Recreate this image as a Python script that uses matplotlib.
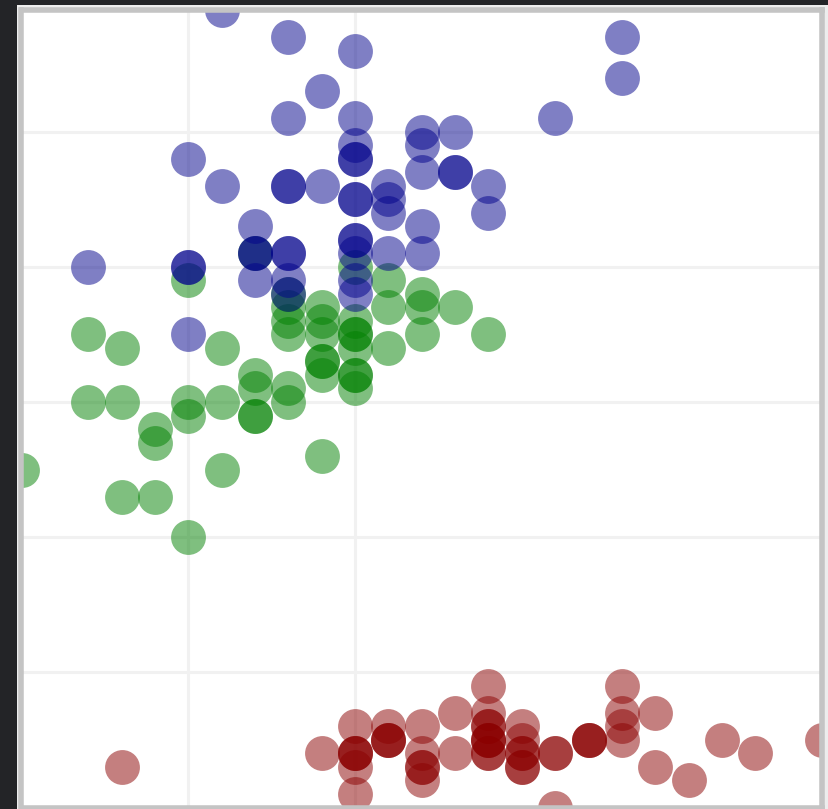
#!/usr/bin/env python3

import matplotlib
matplotlib.use('Agg')
import matplotlib.pyplot as plt
from matplotlib.patches import Rectangle

# Iris measurements: sepal width (x) against petal length (y), per species.
setosa_sepal_width = [
    3.5, 3.0, 3.2, 3.1, 3.6, 3.9, 3.4, 3.4, 2.9, 3.1,
    3.7, 3.4, 3.0, 3.0, 4.0, 4.4, 3.9, 3.5, 3.8, 3.8,
    3.4, 3.7, 3.6, 3.3, 3.4, 3.0, 3.4, 3.5, 3.4, 3.2,
    3.1, 3.4, 4.1, 4.2, 3.1, 3.2, 3.5, 3.6, 3.0, 3.4,
    3.5, 2.3, 3.2, 3.5, 3.8, 3.0, 3.8, 3.2, 3.7, 3.3]
setosa_petal_length = [
    1.4, 1.4, 1.3, 1.5, 1.4, 1.7, 1.4, 1.5, 1.4, 1.5,
    1.5, 1.6, 1.4, 1.1, 1.2, 1.5, 1.3, 1.4, 1.7, 1.5,
    1.7, 1.5, 1.0, 1.7, 1.9, 1.6, 1.6, 1.5, 1.4, 1.6,
    1.6, 1.5, 1.5, 1.4, 1.5, 1.2, 1.3, 1.4, 1.3, 1.5,
    1.3, 1.3, 1.3, 1.6, 1.9, 1.4, 1.6, 1.4, 1.5, 1.4]

versicolor_sepal_width = [
    3.2, 3.2, 3.1, 2.3, 2.8, 2.8, 3.3, 2.4, 2.9, 2.7,
    2.0, 3.0, 2.2, 2.9, 2.9, 3.1, 3.0, 2.7, 2.2, 2.5,
    3.2, 2.8, 2.5, 2.8, 2.9, 3.0, 2.8, 3.0, 2.9, 2.6,
    2.4, 2.4, 2.7, 2.7, 3.0, 3.4, 3.1, 2.3, 3.0, 2.5,
    2.6, 3.0, 2.6, 2.3, 2.7, 3.0, 2.9, 2.9, 2.5, 2.8]
versicolor_petal_length = [
    4.7, 4.5, 4.9, 4.0, 4.6, 4.5, 4.7, 3.3, 4.6, 3.9,
    3.5, 4.2, 4.0, 4.7, 3.6, 4.4, 4.5, 4.1, 4.5, 3.9,
    4.8, 4.0, 4.9, 4.7, 4.3, 4.4, 4.8, 5.0, 4.5, 3.5,
    3.8, 3.7, 3.9, 5.1, 4.5, 4.5, 4.7, 4.4, 4.1, 4.0,
    4.4, 4.6, 4.0, 3.3, 4.2, 4.2, 4.2, 4.3, 3.0, 4.1]

virginica_sepal_width = [
    3.3, 2.7, 3.0, 2.9, 3.0, 3.0, 2.5, 2.9, 2.5, 3.6,
    3.2, 2.7, 3.0, 2.5, 2.8, 3.2, 3.0, 3.8, 2.6, 2.2,
    3.2, 2.8, 2.8, 2.7, 3.3, 3.2, 2.8, 3.0, 2.8, 3.0,
    2.8, 3.8, 2.8, 2.8, 2.6, 3.0, 3.4, 3.1, 3.0, 3.1,
    3.1, 3.1, 2.7, 3.2, 3.3, 3.0, 2.5, 3.0, 3.4, 3.0]
virginica_petal_length = [
    6.0, 5.1, 5.9, 5.6, 5.8, 6.6, 4.5, 6.3, 5.8, 6.1,
    5.1, 5.3, 5.5, 5.0, 5.1, 5.3, 5.5, 6.7, 6.9, 5.0,
    5.7, 4.9, 6.7, 4.9, 5.7, 6.0, 4.8, 4.9, 5.6, 5.8,
    6.1, 6.4, 5.6, 5.1, 5.6, 6.1, 5.6, 5.5, 4.8, 5.4,
    5.6, 5.1, 5.1, 5.9, 5.7, 5.2, 5.0, 5.2, 5.4, 5.1]

x_grid = [2.5, 3.0]
y_grid = [2, 3, 4, 5, 6]

W, H = 829, 809

def main():
    fig = plt.figure(figsize = (W / 100, H / 100), dpi = 100)
    fig.patch.set_facecolor('#ededed')

    # dark window chrome along the left and top edges
    fig.patches.append(Rectangle((0, 0), 17 / W, 1, transform = fig.transFigure,
                                 facecolor = '#232427', edgecolor = 'none', zorder = 0))
    fig.patches.append(Rectangle((0, 1 - 5 / H), 1, 5 / H, transform = fig.transFigure,
                                 facecolor = '#232427', edgecolor = 'none', zorder = 0))

    left, right = 21.5, 822.0
    top, bottom = 10.0, 807.5
    ax = fig.add_axes([left / W, (H - bottom) / H, (right - left) / W, (bottom - top) / H])
    ax.set_facecolor('white')

    size = 630
    ax.scatter(setosa_sepal_width, setosa_petal_length, s = size,
               color = 'darkred', alpha = 0.5, linewidths = 0)
    ax.scatter(versicolor_sepal_width, versicolor_petal_length, s = size,
               color = 'green', alpha = 0.5, linewidths = 0)
    ax.scatter(virginica_sepal_width, virginica_petal_length, s = size,
               color = 'darkblue', alpha = 0.5, linewidths = 0)

    ax.set_xlim(2.0, 4.4)
    ax.set_ylim(1.0, 6.9)
    ax.set_xticks(x_grid)
    ax.set_yticks(y_grid)
    ax.tick_params(length = 0, labelleft = False, labelbottom = False)
    ax.set_axisbelow(True)
    ax.grid(True, color = '#f1f1f1', linewidth = 2.2)

    for spine in ax.spines.values():
        spine.set_color('#c4c4c4')
        spine.set_linewidth(4.0)

    fig.savefig('out.png', dpi = 100, facecolor = fig.get_facecolor())

if __name__ == "__main__":
    main()
